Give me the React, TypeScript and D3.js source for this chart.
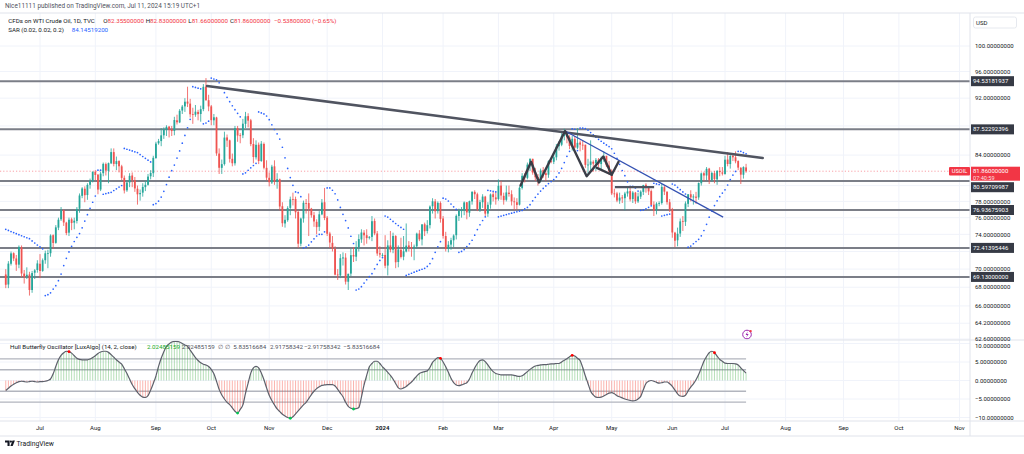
import React from "react";
import * as d3 from "d3";

type Bar = [number, number, number, number]; // open, high, low, close

// TVC:USOIL daily candles, one per weekday
const jun23: Bar[] = [
  [69.4, 70.0, 67.9, 68.27], [68.3, 70.9, 67.9, 70.62], [70.6, 72.0, 70.4, 71.78], [71.8, 71.9, 70.9, 71.2],
  [71.2, 71.6, 69.8, 70.5], [70.5, 72.7, 70.1, 72.53], [72.5, 72.7, 69.1, 69.51], [69.5, 69.9, 68.4, 69.16],
  [69.2, 70.2, 68.9, 69.37], [69.4, 69.7, 67.1, 67.7], [67.7, 69.8, 67.4, 69.56], [69.6, 70.0, 68.9, 69.86],
  [69.9, 71.0, 69.6, 70.64],
];
const jul23: Bar[] = [
  [70.6, 71.7, 69.0, 69.79], [69.8, 71.2, 69.7, 71.0], [71.0, 72.1, 70.6, 71.79], [71.8, 72.2, 70.1, 71.8],
  [71.8, 74.0, 71.4, 73.86], [73.9, 74.0, 72.3, 72.99], [73.0, 75.1, 72.9, 74.83], [74.8, 76.0, 74.5, 75.75],
  [75.8, 77.3, 75.6, 76.89], [76.9, 77.0, 75.0, 75.42], [75.4, 75.5, 73.9, 74.15], [74.2, 76.0, 73.8, 75.75],
  [75.8, 76.0, 74.5, 75.35], [75.4, 76.0, 74.6, 75.63], [75.6, 77.3, 75.3, 77.07], [77.1, 79.0, 76.6, 78.74],
  [78.7, 79.8, 78.4, 79.63], [79.6, 79.9, 77.9, 78.78], [78.8, 80.3, 78.2, 80.09], [80.1, 80.9, 79.6, 80.58],
  [80.6, 81.8, 80.4, 81.8],
];
const aug23: Bar[] = [
  [81.8, 82.0, 80.7, 81.37], [81.4, 81.5, 78.9, 79.49], [79.5, 81.8, 79.3, 81.55], [81.6, 83.0, 81.2, 82.82],
  [82.8, 83.0, 81.3, 81.94], [81.9, 83.0, 80.3, 82.92], [82.9, 84.9, 82.8, 84.4], [84.4, 84.9, 82.5, 82.82],
  [82.8, 83.8, 82.0, 83.19], [83.2, 83.3, 81.7, 82.51], [82.5, 82.7, 80.7, 80.99], [81.0, 81.3, 79.0, 79.38],
  [79.4, 80.7, 79.2, 80.39], [80.4, 81.6, 79.8, 81.25], [81.3, 81.7, 79.8, 80.72], [80.7, 81.1, 79.2, 79.64],
  [79.6, 80.0, 77.6, 78.89], [78.9, 79.5, 78.1, 79.05], [79.1, 80.3, 78.6, 79.83], [79.8, 80.6, 79.3, 80.1],
  [80.1, 81.5, 80.0, 81.16], [81.2, 82.0, 80.8, 81.63], [81.6, 83.9, 81.1, 83.63],
];
const sep23: Bar[] = [
  [83.6, 85.8, 83.5, 85.55], [85.6, 86.2, 85.4, 85.9], [85.9, 87.7, 85.2, 86.69], [86.7, 87.8, 86.2, 87.54],
  [87.5, 88.1, 86.6, 87.87], [87.9, 88.0, 86.4, 87.51], [87.5, 88.0, 86.6, 87.29], [87.3, 89.3, 86.7, 88.84],
  [88.8, 89.6, 88.2, 88.52], [88.5, 90.4, 88.4, 90.16], [90.2, 91.0, 89.7, 90.77], [90.8, 92.0, 90.0, 91.48],
  [91.5, 93.7, 90.7, 91.2], [91.2, 91.9, 89.2, 89.66], [89.7, 90.6, 88.3, 89.63], [89.6, 91.0, 89.3, 90.03],
  [90.0, 90.3, 88.8, 89.68], [89.7, 90.9, 88.6, 90.39], [90.4, 94.1, 90.1, 93.68], [93.7, 95.0, 91.6, 91.71],
  [91.7, 92.5, 90.1, 90.79],
];
const oct23: Bar[] = [
  [90.8, 91.0, 88.1, 88.82], [88.8, 89.7, 88.1, 89.23], [89.2, 89.3, 83.9, 84.22], [84.2, 84.9, 81.5, 82.31],
  [82.3, 83.4, 81.5, 82.79], [82.8, 87.2, 82.6, 86.38], [86.4, 86.8, 85.1, 85.97], [86.0, 86.1, 83.0, 83.49],
  [83.5, 84.2, 82.5, 82.91], [82.9, 88.0, 82.6, 87.69], [87.7, 88.0, 85.8, 86.66], [86.7, 87.0, 85.6, 86.66],
  [86.7, 89.0, 86.3, 88.32], [88.3, 90.0, 87.7, 89.37], [89.4, 89.8, 87.8, 88.75], [88.8, 89.0, 85.2, 85.49],
  [85.5, 86.3, 82.9, 83.74], [83.7, 86.0, 83.4, 85.39], [85.4, 85.7, 82.8, 83.21], [83.2, 85.9, 83.1, 85.54],
  [85.5, 85.7, 82.1, 82.31], [82.3, 83.3, 80.7, 81.02],
];
const nov23: Bar[] = [
  [81.0, 81.7, 79.9, 80.44], [80.4, 82.7, 80.2, 82.46], [82.5, 83.3, 80.1, 80.51], [80.5, 81.6, 79.6, 80.82],
  [80.8, 80.9, 76.9, 77.37], [77.4, 77.9, 74.9, 75.33], [75.3, 76.3, 74.8, 75.74], [75.7, 77.4, 75.5, 77.17],
  [77.2, 78.6, 76.3, 78.26], [78.3, 79.1, 77.5, 78.26], [78.3, 78.6, 75.9, 76.66], [76.7, 76.9, 72.4, 72.9],
  [72.9, 76.0, 72.6, 75.89], [75.9, 78.1, 75.4, 77.83], [77.8, 78.3, 76.5, 77.77], [77.8, 79.0, 73.8, 77.1],
  [77.1, 77.2, 76.0, 76.3], [76.3, 76.7, 74.9, 75.54], [75.5, 75.8, 74.0, 74.86], [74.9, 76.8, 74.4, 76.41],
  [76.4, 78.3, 76.3, 77.86], [77.9, 79.7, 75.7, 75.96],
];
const dec23: Bar[] = [
  [76.0, 76.2, 73.8, 74.07], [74.1, 74.3, 72.4, 73.04], [73.0, 73.8, 72.0, 72.32], [72.3, 72.6, 69.3, 69.38],
  [69.4, 70.0, 68.8, 69.34], [69.3, 71.7, 69.0, 71.23], [71.2, 71.9, 70.4, 71.32], [71.3, 71.8, 68.3, 68.61],
  [68.6, 69.5, 67.7, 69.47], [69.5, 72.3, 69.2, 71.58], [71.6, 72.5, 70.8, 71.43], [71.4, 73.2, 70.9, 72.47],
  [72.5, 74.0, 72.0, 73.44], [73.4, 74.6, 73.0, 74.22], [74.2, 74.5, 72.7, 73.89], [73.9, 74.6, 72.9, 73.56],
  [73.6, 73.8, 73.4, 73.7], [73.7, 76.2, 73.2, 75.57], [75.6, 75.9, 73.9, 74.11], [74.1, 74.4, 71.5, 71.77],
  [71.8, 72.6, 71.3, 71.65],
];
const jan24: Bar[] = [
  [71.6, 71.8, 71.4, 71.6], [71.6, 73.9, 70.1, 70.38], [70.4, 73.3, 69.3, 72.7], [72.7, 74.4, 71.9, 72.19],
  [72.2, 74.2, 71.8, 73.81], [73.8, 73.9, 70.1, 70.77], [70.8, 72.7, 70.2, 72.24], [72.2, 73.6, 71.2, 71.37],
  [71.4, 73.8, 71.0, 72.02], [72.0, 75.3, 71.9, 72.68], [72.7, 73.2, 72.0, 72.5], [72.5, 73.1, 71.4, 72.4],
  [72.4, 72.8, 71.0, 72.56], [72.6, 74.2, 72.3, 74.08], [74.1, 74.5, 73.2, 73.41], [73.4, 75.2, 72.7, 75.19],
  [75.2, 75.4, 73.8, 74.37], [74.4, 75.7, 74.1, 75.09], [75.1, 77.5, 74.7, 77.36], [77.4, 78.4, 76.5, 78.01],
  [78.0, 78.3, 75.9, 76.78], [76.8, 78.0, 76.5, 77.82], [77.8, 78.0, 75.4, 75.85],
];
const feb24: Bar[] = [
  [75.9, 76.2, 73.5, 73.82], [73.8, 74.3, 72.0, 72.28], [72.3, 73.2, 71.9, 72.78], [72.8, 73.6, 72.2, 73.31],
  [73.3, 74.0, 72.5, 73.86], [73.9, 76.4, 73.4, 76.22], [76.2, 77.1, 75.6, 76.84], [76.8, 77.3, 76.0, 76.92],
  [76.9, 78.0, 76.3, 77.87], [77.9, 77.9, 75.8, 76.64], [76.6, 78.1, 76.1, 78.03], [78.0, 79.3, 77.6, 79.19],
  [79.2, 79.4, 78.3, 78.9], [78.9, 79.1, 76.8, 77.04], [77.0, 78.2, 76.7, 77.91], [77.9, 78.9, 77.2, 78.61],
  [78.6, 78.7, 76.2, 76.49], [76.5, 77.9, 76.1, 77.58], [77.6, 79.0, 77.1, 78.87], [78.9, 79.2, 78.0, 78.54],
  [78.5, 79.2, 77.6, 78.26],
];
const mar24: Bar[] = [
  [78.3, 80.8, 78.1, 79.97], [80.0, 80.6, 78.2, 78.74], [78.7, 79.1, 77.6, 78.15], [78.2, 80.0, 78.0, 79.13],
  [79.1, 80.0, 78.6, 78.93], [78.9, 79.4, 77.5, 78.01], [78.0, 78.5, 76.9, 77.93], [77.9, 78.4, 77.0, 77.56],
  [77.6, 79.9, 77.5, 79.72], [79.7, 81.6, 79.5, 81.26], [81.3, 81.6, 80.4, 81.04], [81.0, 83.0, 80.8, 82.72],
  [82.7, 83.6, 81.9, 83.47], [83.5, 83.5, 81.4, 81.68], [81.7, 82.3, 80.6, 81.07], [81.1, 81.5, 80.0, 80.63],
  [80.6, 82.2, 80.4, 81.95], [82.0, 82.4, 81.0, 81.62], [81.6, 81.9, 80.6, 81.35], [81.4, 83.3, 81.0, 83.17],
  [83.2, 83.4, 82.9, 83.1],
];
const apr24: Bar[] = [
  [83.1, 84.2, 82.8, 83.71], [83.7, 85.5, 83.3, 85.15], [85.2, 85.9, 84.6, 85.43], [85.4, 87.0, 85.2, 86.59],
  [86.6, 87.6, 86.0, 86.91], [86.9, 87.0, 85.6, 86.43], [86.4, 86.7, 84.8, 85.23], [85.2, 86.6, 84.6, 86.21],
  [86.2, 86.6, 84.9, 85.02], [85.0, 87.7, 84.8, 85.66], [85.7, 86.0, 84.5, 85.41], [85.4, 86.0, 84.7, 85.36],
  [85.4, 85.4, 82.3, 82.69], [82.7, 83.5, 81.6, 82.73], [82.7, 86.0, 81.9, 83.14], [83.1, 83.3, 81.8, 82.85],
  [82.9, 83.6, 81.9, 83.36], [83.4, 83.6, 82.4, 82.81], [82.8, 83.8, 82.1, 83.57], [83.6, 84.5, 83.1, 83.85],
  [83.9, 83.9, 82.4, 82.63], [82.6, 83.2, 81.4, 81.93],
];
const may24: Bar[] = [
  [81.9, 82.1, 78.8, 79.0], [79.0, 79.6, 78.5, 78.95], [79.0, 79.2, 77.9, 78.11], [78.1, 79.1, 77.7, 78.48],
  [78.5, 78.8, 77.8, 78.38], [78.4, 79.2, 76.9, 78.99], [79.0, 79.9, 78.6, 79.26], [79.3, 79.7, 78.0, 78.26],
  [78.3, 79.3, 77.8, 79.12], [79.1, 79.2, 77.7, 78.02], [78.0, 79.1, 77.8, 78.63], [78.6, 79.4, 78.3, 79.23],
  [79.2, 80.1, 78.8, 80.06], [80.1, 80.3, 79.1, 79.8], [79.8, 79.9, 78.8, 79.26], [79.3, 79.5, 77.5, 77.57],
  [77.6, 78.0, 76.2, 76.87], [76.9, 77.9, 76.4, 77.72], [77.7, 78.0, 77.4, 77.8], [77.8, 80.2, 77.6, 79.83],
  [79.8, 80.0, 78.8, 79.23], [79.2, 79.3, 77.6, 77.91], [77.9, 78.3, 76.7, 76.99],
];
const jun24: Bar[] = [
  [77.0, 77.2, 73.6, 74.22], [74.2, 74.3, 72.5, 73.25], [73.3, 74.8, 72.6, 74.07], [74.1, 75.9, 73.7, 75.55],
  [75.6, 76.2, 74.4, 75.53], [75.5, 78.0, 75.0, 77.74], [77.7, 78.9, 77.3, 78.9], [78.9, 79.4, 78.0, 78.5],
  [78.5, 78.9, 77.6, 78.62], [78.6, 79.2, 77.7, 78.45], [78.5, 80.4, 78.2, 80.33], [80.3, 81.7, 80.0, 81.57],
  [81.6, 81.8, 80.6, 81.3], [81.3, 82.4, 80.7, 82.17], [82.2, 82.3, 80.2, 80.73], [80.7, 81.8, 80.5, 81.63],
  [81.6, 81.9, 80.3, 80.83], [80.8, 82.0, 80.1, 81.9], [81.9, 82.4, 81.2, 81.74], [81.7, 82.4, 81.3, 81.54],
];
const jul24: Bar[] = [
  [81.5, 83.9, 81.4, 83.38], [83.4, 84.4, 82.5, 82.81], [82.8, 84.0, 82.2, 83.88], [83.9, 84.1, 83.2, 83.7],
  [83.7, 84.5, 82.9, 83.16], [83.2, 83.3, 82.0, 82.33], [82.3, 82.4, 80.2, 81.41], [81.4, 82.5, 80.9, 82.4],
  [82.355, 82.83, 81.66, 81.86],
];

// Hull Butterfly Oscillator, one value per bar
const oscJun23 = [-2.7, -2.1, -1.5, -1.0, -0.6, -0.3, -0.2, -0.3, -0.4, -0.3, -0.2, -0.3, -0.4];
const oscJul23 = [-0.3, -0.3, -0.2, 0.0, 0.4, 1.8, 3.8, 5.6, 6.8, 7.5, 7.9, 7.8, 7.4, 6.7, 6.0, 5.7, 5.6, 5.6, 5.6, 5.8, 6.2];
const oscAug23 = [6.7, 7.3, 7.7, 7.9, 7.9, 7.6, 7.0, 6.3, 5.6, 5.0, 4.4, 3.2, 1.9, 0.4, -1.1, -2.2, -3.2, -4.0, -4.5, -4.6, -4.1, -2.6, -0.8];
const oscSep23 = [1.2, 3.8, 6.0, 7.8, 9.2, 9.9, 10.4, 10.6, 10.6, 10.4, 10.0, 9.6, 9.3, 8.2, 7.2, 6.2, 5.4, 4.8, 4.4, 4.2, 3.8];
const oscOct23 = [3.0, 1.8, -0.2, -2.4, -3.9, -5.0, -5.9, -6.5, -7.4, -8.3, -8.8, -7.8, -6.6, -3.5, -0.7, 2.0, 3.4, 3.8, 3.4, 2.0, 0.2, -2.0];
const oscNov23 = [-4.0, -5.4, -6.6, -7.7, -8.4, -9.1, -9.6, -10.0, -10.2, -9.8, -9.0, -8.2, -7.4, -6.6, -5.9, -4.9, -3.8, -2.9, -2.2, -1.7, -1.3, -1.2];
const oscDec23 = [-1.1, -1.1, -1.1, -1.5, -2.4, -3.4, -4.4, -5.9, -7.0, -7.5, -7.7, -7.6, -7.3, -4.5, -1.2, 1.4, 3.7, 4.6, 5.2, 5.2, 4.6];
const oscJan24 = [3.7, 3.0, 2.2, 1.4, 0.4, -0.8, -2.0, -2.3, -2.0, -1.6, -1.0, -0.4, 0.4, 1.2, 1.9, 2.2, 2.4, 2.6, 3.5, 4.9, 5.6, 6.2, 6.0];
const oscFeb24 = [5.0, 3.7, 2.2, 0.6, -0.6, -1.2, -1.4, -1.2, -0.9, -0.6, 0.4, 2.0, 3.4, 4.6, 5.4, 5.6, 5.1, 4.2, 3.2, 2.4, 1.9];
const oscMar24 = [1.7, 1.5, 1.5, 1.5, 1.5, 1.5, 1.4, 1.2, 1.1, 1.3, 1.8, 2.4, 3.0, 3.5, 3.9, 4.1, 4.2, 4.3, 4.3, 4.4, 4.5];
const oscApr24 = [4.5, 4.6, 4.6, 5.0, 5.5, 5.9, 6.4, 6.8, 6.6, 6.0, 5.4, 3.5, 1.2, -0.8, -2.9, -3.9, -4.5, -4.6, -4.5, -4.2, -3.8, -3.4];
const oscMay24 = [-3.3, -3.6, -4.1, -4.4, -4.7, -5.0, -5.2, -5.4, -5.5, -5.4, -5.0, -4.3, -2.5, -0.8, -0.2, 0.0, -0.2, -0.5, -0.7, -0.6, -0.4, -0.4, -0.9];
const oscJun24 = [-1.6, -2.6, -3.6, -4.2, -4.3, -4.0, -2.8, -1.8, -0.9, 0.2, 1.6, 3.4, 5.2, 6.5, 7.5, 7.9, 7.5, 6.6, 5.7, 5.2];
const oscJul24 = [4.7, 4.6, 4.6, 4.6, 4.5, 4.2, 3.4, 2.7, 2.0];
const oscTopDots = [24, 165, 215, 269];
const oscBottomDots = [88, 108, 132];
const oscBands = [5.83516684, 2.91758342, -2.91758342, -5.83516684];
const oscTicks = [10, 5, 0, -5, -10];

// horizontal levels, drawings ([bar index, price])
const levels = [94.53181937, 87.52292396, 80.59709987, 76.93675903, 72.41395446, 69.13];
const trendMain: [number, number][] = [[76.4, 93.8], [287.3, 83.6]];
const trendBlue: [number, number][] = [[212.3, 87.3], [272.3, 76.06]];
const zigzag: [number, number][] = [[195.4, 80.0], [199.4, 83.1], [202.4, 80.4], [212.3, 87.3], [220.5, 81.2], [226.8, 83.8], [230.0, 81.4], [232.6, 83.1]];
const zigzagLeg: [number, number][] = [[224.4, 82.3], [230.0, 81.4]];
const flatLevel: [number, number][] = [[231.2, 79.8], [246.1, 79.8]];

const priceTicks = [100, 96, 92, 88, 84, 80, 78, 76, 74, 72, 70, 68, 66, 64.2, 62.6];
const monthNames = ["Jan", "Feb", "Mar", "Apr", "May", "Jun", "Jul", "Aug", "Sep", "Oct", "Nov", "Dec"];
const sarInit = { sar: 74.6, ep: 67.9, af: 0.02, up: false };
const sarParams = { start: 0.02, inc: 0.02, max: 0.2 };

const bars: Bar[] = [...jun23, ...jul23, ...aug23, ...sep23, ...oct23, ...nov23, ...dec23, ...jan24, ...feb24, ...mar24, ...apr24, ...may24, ...jun24, ...jul24];
const osc: number[] = [...oscJun23, ...oscJul23, ...oscAug23, ...oscSep23, ...oscOct23, ...oscNov23, ...oscDec23, ...oscJan24, ...oscFeb24, ...oscMar24, ...oscApr24, ...oscMay24, ...oscJun24, ...oscJul24];

// weekdays from the first bar on
const days: Date[] = [];
for (let d = new Date(Date.UTC(2023, 5, 14)); days.length < 380; d.setUTCDate(d.getUTCDate() + 1)) {
  const w = d.getUTCDay();
  if (w !== 0 && w !== 6) days.push(new Date(d));
}
const monthTicks = days
  .map((d, i) => ({ d, i }))
  .filter(({ d, i }) => i > 0 && d.getUTCMonth() !== days[i - 1].getUTCMonth())
  .map(({ d, i }) => ({ i, label: d.getUTCMonth() === 0 ? String(d.getUTCFullYear()) : monthNames[d.getUTCMonth()], bold: d.getUTCMonth() === 0 }));

// parabolic SAR (0.02, 0.02, 0.2)
function parabolicSar(data: Bar[]) {
  let { sar, ep, af, up } = sarInit;
  const out: number[] = [];
  data.forEach((b, i) => {
    if (i > 0) {
      sar = sar + af * (ep - sar);
      if (up) {
        sar = Math.min(sar, data[i - 1][2], i > 1 ? data[i - 2][2] : Infinity);
      } else {
        sar = Math.max(sar, data[i - 1][1], i > 1 ? data[i - 2][1] : -Infinity);
      }
    }
    if (up && b[2] < sar) {
      up = false; sar = ep; ep = b[2]; af = sarParams.start;
    } else if (!up && b[1] > sar) {
      up = true; sar = ep; ep = b[1]; af = sarParams.start;
    } else if (up && b[1] > ep) {
      ep = b[1]; af = Math.min(af + sarParams.inc, sarParams.max);
    } else if (!up && b[2] < ep) {
      ep = b[2]; af = Math.min(af + sarParams.inc, sarParams.max);
    }
    out.push(sar);
  });
  return out;
}
const sar = parabolicSar(bars);

const FONT = "Roboto, 'Liberation Sans', Arial, sans-serif";
const UP = "#26a69a";
const DOWN = "#ef5350";
const RED = "#f23645";
const GRID = "#f0f3fa";
const TEXT = "#131722";

export default function App() {
  const plotRight = 970;
  const paneTop = 13;
  const split = 340;
  const axisTop = 421;
  const axisBottom = 436;

  const x = d3.scaleLinear().domain([13, 273]).range([40, 725]);
  const y = d3.scaleLog().domain([62.6, 100]).range([339, 46]);
  const yo = d3.scaleLinear().domain([-10, 10]).range([417.5, 343.5]);

  const line = d3.line<[number, number]>().x((d) => x(d[0])).y((d) => y(d[1]));
  const oscLine = d3.line<number>().x((_, i) => x(i)).y((v) => yo(v)).curve(d3.curveMonotoneX);

  const last = bars[bars.length - 1];
  const yLast = y(last[3]);
  const lastX = x(bars.length - 1);
  const ticks = monthTicks.filter((t) => x(t.i) < plotRight - 6);

  // axis label slots for the level tags (one pushed below the last-price tag)
  const levelY = levels.map((p) => {
    const cy = y(p);
    return Math.abs(cy - yLast) < 12 ? yLast + 16 : cy;
  });
  const coveredBy = (cy: number) => levelY.some((ly) => Math.abs(ly - cy) < 7) || (cy > yLast - 6 && cy < yLast + 11);
  const visiblePriceTicks = priceTicks.filter((p) => !coveredBy(y(p)));

  return (
    <div style={{ position: "fixed", left: 0, top: 0, width: 1024, height: 454, background: "#fff" }}>
      <svg width={1024} height={454} style={{ display: "block", fontFamily: FONT }}>
        <defs>
          <clipPath id="priceClip"><rect x={0} y={paneTop} width={plotRight} height={split - paneTop} /></clipPath>
          <clipPath id="oscClip"><rect x={0} y={split + 0.5} width={plotRight} height={axisTop - split - 0.5} /></clipPath>
          <clipPath id="oscAxisClip"><rect x={plotRight} y={split + 0.5} width={54} height={axisTop - split - 0.5} /></clipPath>
        </defs>
        <rect width={1024} height={454} fill="#fff" />

        {/* grid */}
        {ticks.map((t) => (
          <line key={"vg" + t.i} x1={x(t.i)} x2={x(t.i)} y1={paneTop} y2={axisTop} stroke={GRID} strokeWidth={1} />
        ))}
        {priceTicks.map((p) => (
          <line key={"hg" + p} x1={0} x2={plotRight} y1={y(p)} y2={y(p)} stroke={GRID} strokeWidth={1} />
        ))}
        {oscTicks.map((v) => (
          <line key={"og" + v} x1={0} x2={plotRight} y1={yo(v)} y2={yo(v)} stroke={GRID} strokeWidth={1} clipPath="url(#oscClip)" />
        ))}

        {/* price pane */}
        <g clipPath="url(#priceClip)">
          <line x1={0} x2={949} y1={yLast} y2={yLast} stroke={RED} strokeOpacity={0.6} strokeWidth={0.8} strokeDasharray="1.2 2" />
          {levels.map((p) => (
            <line key={"lv" + p} x1={0} x2={plotRight} y1={y(p)} y2={y(p)} stroke="#7b7e87" strokeWidth={2} />
          ))}
          {bars.map((b, i) => {
            const [o, h, l, c] = b;
            const col = c >= o ? UP : DOWN;
            const cx = x(i);
            const top = y(Math.max(o, c));
            const bh = Math.max(0.8, y(Math.min(o, c)) - top);
            return (
              <g key={"c" + i}>
                <line x1={cx} x2={cx} y1={y(h)} y2={y(l)} stroke={col} strokeWidth={0.8} />
                <rect x={cx - 0.9} y={top} width={1.8} height={bh} fill={col} />
              </g>
            );
          })}
          {sar.map((s, i) => (
            <circle key={"s" + i} cx={x(i)} cy={y(s)} r={0.85} fill="#2962ff" />
          ))}
          <path d={line(trendMain) ?? ""} fill="none" stroke="#505460" strokeWidth={2.6} strokeLinecap="round" />
          <path d={line(trendBlue) ?? ""} fill="none" stroke="#3451b2" strokeWidth={1.3} />
          <path d={line(zigzag) ?? ""} fill="none" stroke="#3a3d47" strokeWidth={2.4} strokeLinejoin="round" strokeLinecap="round" />
          <path d={line(zigzagLeg) ?? ""} fill="none" stroke="#3a3d47" strokeWidth={2.4} strokeLinecap="round" />
          <path d={line(flatLevel) ?? ""} fill="none" stroke="#505460" strokeWidth={2.4} />
          {/* alert icon */}
          <circle cx={747} cy={334.5} r={4.3} fill="#fff" stroke="#9c27b0" strokeWidth={1} />
          <path d="M747.8,331.3 L745.6,334.9 L747.2,334.9 L746.2,337.7 L748.6,333.9 L747,333.9 Z" fill="#9c27b0" />
          <circle cx={750.6} cy={331.1} r={1.2} fill={RED} />
        </g>

        {/* oscillator pane */}
        <g clipPath="url(#oscClip)">
          {oscBands.map((v) => (
            <line key={"ob" + v} x1={0} x2={lastX} y1={yo(v)} y2={yo(v)} stroke="#b2b5be" strokeWidth={1.4} />
          ))}
          {osc.map((v, i) => (
            <line key={"h" + i} x1={x(i)} x2={x(i)} y1={yo(0)} y2={yo(v)} stroke={v >= 0 ? "#4caf50" : "#f44336"} strokeOpacity={0.5} strokeWidth={0.8} />
          ))}
          <path d={oscLine(osc) ?? ""} fill="none" stroke="#5d606b" strokeWidth={1.2} />
          {oscTopDots.map((i) => (
            <circle key={"td" + i} cx={x(i)} cy={yo(osc[i])} r={1.4} fill="#ff0000" />
          ))}
          {oscBottomDots.map((i) => (
            <circle key={"bd" + i} cx={x(i)} cy={yo(osc[i])} r={1.4} fill="#00c853" />
          ))}
        </g>

        {/* frame */}
        <line x1={0} x2={1024} y1={paneTop} y2={paneTop} stroke="#e0e3eb" strokeWidth={1} />
        <line x1={0} x2={1024} y1={split} y2={split} stroke="#e0e3eb" strokeWidth={1} />
        <line x1={0} x2={1024} y1={axisTop} y2={axisTop} stroke="#e0e3eb" strokeWidth={1} />
        <line x1={0} x2={1024} y1={axisBottom} y2={axisBottom} stroke="#e0e3eb" strokeWidth={1} />
        <line x1={plotRight} x2={plotRight} y1={paneTop} y2={axisBottom} stroke="#e0e3eb" strokeWidth={1} />

        {/* price axis */}
        <g fontSize={6} fill={TEXT}>
          {visiblePriceTicks.map((p) => (
            <text key={"pt" + p} x={975} y={y(p) + 2.2}>{p.toFixed(8)}</text>
          ))}
        </g>
        <g fontSize={6} fill={TEXT} clipPath="url(#oscAxisClip)">
          {oscTicks.map((v) => (
            <text key={"ot" + v} x={975} y={yo(v) + (v === 10 ? 4.2 : 2.2)}>{(v < 0 ? "\u2212" + Math.abs(v).toFixed(8) : v.toFixed(8))}</text>
          ))}
        </g>
        <rect x={973.5} y={17} width={43} height={11} rx={2} fill="#fff" stroke="#e0e3eb" strokeWidth={0.8} />
        <text x={976} y={24.6} fontSize={6} fill={TEXT}>USD</text>

        {levels.map((p, k) => {
          const cy = levelY[k];
          return (
            <g key={"ll" + p}>
              <rect x={971} y={cy - 5} width={43} height={10} fill="#363a45" />
              <text x={973} y={cy + 2.1} fontSize={6} fill="#fff">{p.toFixed(8)}</text>
            </g>
          );
        })}
        <rect x={971} y={yLast - 4.5} width={49} height={14} fill={RED} />
        <text x={973} y={yLast + 2} fontSize={6} fill="#fff">{last[3].toFixed(8)}</text>
        <text x={973} y={yLast + 8.4} fontSize={5.6} fill="#fff" fillOpacity={0.85}>07:40:59</text>
        <rect x={949} y={yLast - 4.3} width={21} height={8.6} rx={1} fill={RED} />
        <text x={959.5} y={yLast + 2} fontSize={5.6} fill="#fff" textAnchor="middle">USOIL</text>

        {/* time axis */}
        {ticks.map((t) => (
          <text key={"xt" + t.i} x={x(t.i)} y={430.3} fontSize={6} fill={TEXT} textAnchor="middle" fontWeight={t.bold ? 700 : 400}>{t.label}</text>
        ))}

        {/* headers */}
        <text x={5} y={8.3} fontSize={6.4} fill="#50535e">Nice11111 published on TradingView.com, Jul 11, 2024 15:19 UTC+1</text>
        <text y={23.4} fontSize={6.2} fill={TEXT}>
          <tspan x={8.3}>CFDs on WTI Crude Oil, 1D, TVC</tspan>
          <tspan x={103.3}>O</tspan><tspan fill={RED}>{last[0].toFixed(8)}</tspan>
          <tspan x={145.7}>H</tspan><tspan fill={RED}>{last[1].toFixed(8)}</tspan>
          <tspan x={188.3}>L</tspan><tspan fill={RED}>{last[2].toFixed(8)}</tspan>
          <tspan x={230}>C</tspan><tspan fill={RED}>{last[3].toFixed(8)}</tspan>
          <tspan x={274} fill={RED}>{"\u22120.53800000 (\u22120.65%)"}</tspan>
        </text>
        <text y={32.3} fontSize={6.2} fill={TEXT}>
          <tspan x={8.3}>SAR (0.02, 0.02, 0.2)</tspan>
          <tspan x={71.7} fill="#2962ff">84.14519200</tspan>
        </text>
        <text y={349.4} fontSize={6.2} fill={TEXT}>
          <tspan x={10}>Hull Butterfly Oscillator [LuxAlgo] (14, 2, close)</tspan>
          <tspan x={147} fill="#22ab28">2.02485159</tspan>
          <tspan x={181.7} fill="#50535e">2.02485159</tspan>
          <tspan x={218.3} fill="#50535e">{"\u2205 \u2205"}</tspan>
          <tspan x={233.3} fill="#50535e">5.83516684</tspan>
          <tspan x={270} fill="#50535e">2.91758342</tspan>
          <tspan x={304} fill="#50535e">{"\u22122.91758342"}</tspan>
          <tspan x={343.3} fill="#50535e">{"\u22125.83516684"}</tspan>
        </text>

        {/* logo */}
        <g fill={TEXT}>
          <path d="M5,440.5 h4.6 v5.6 h-2.1 v-3.6 h-2.5 Z" />
          <circle cx={10.9} cy={441.6} r={1.1} />
          <path d="M12.5,440.5 h2.4 l-2.2,5.6 h-2.3 Z" />
        </g>
        <text x={16.5} y={446} fontSize={6.8} fill={TEXT}>TradingView</text>
      </svg>
    </div>
  );
}
